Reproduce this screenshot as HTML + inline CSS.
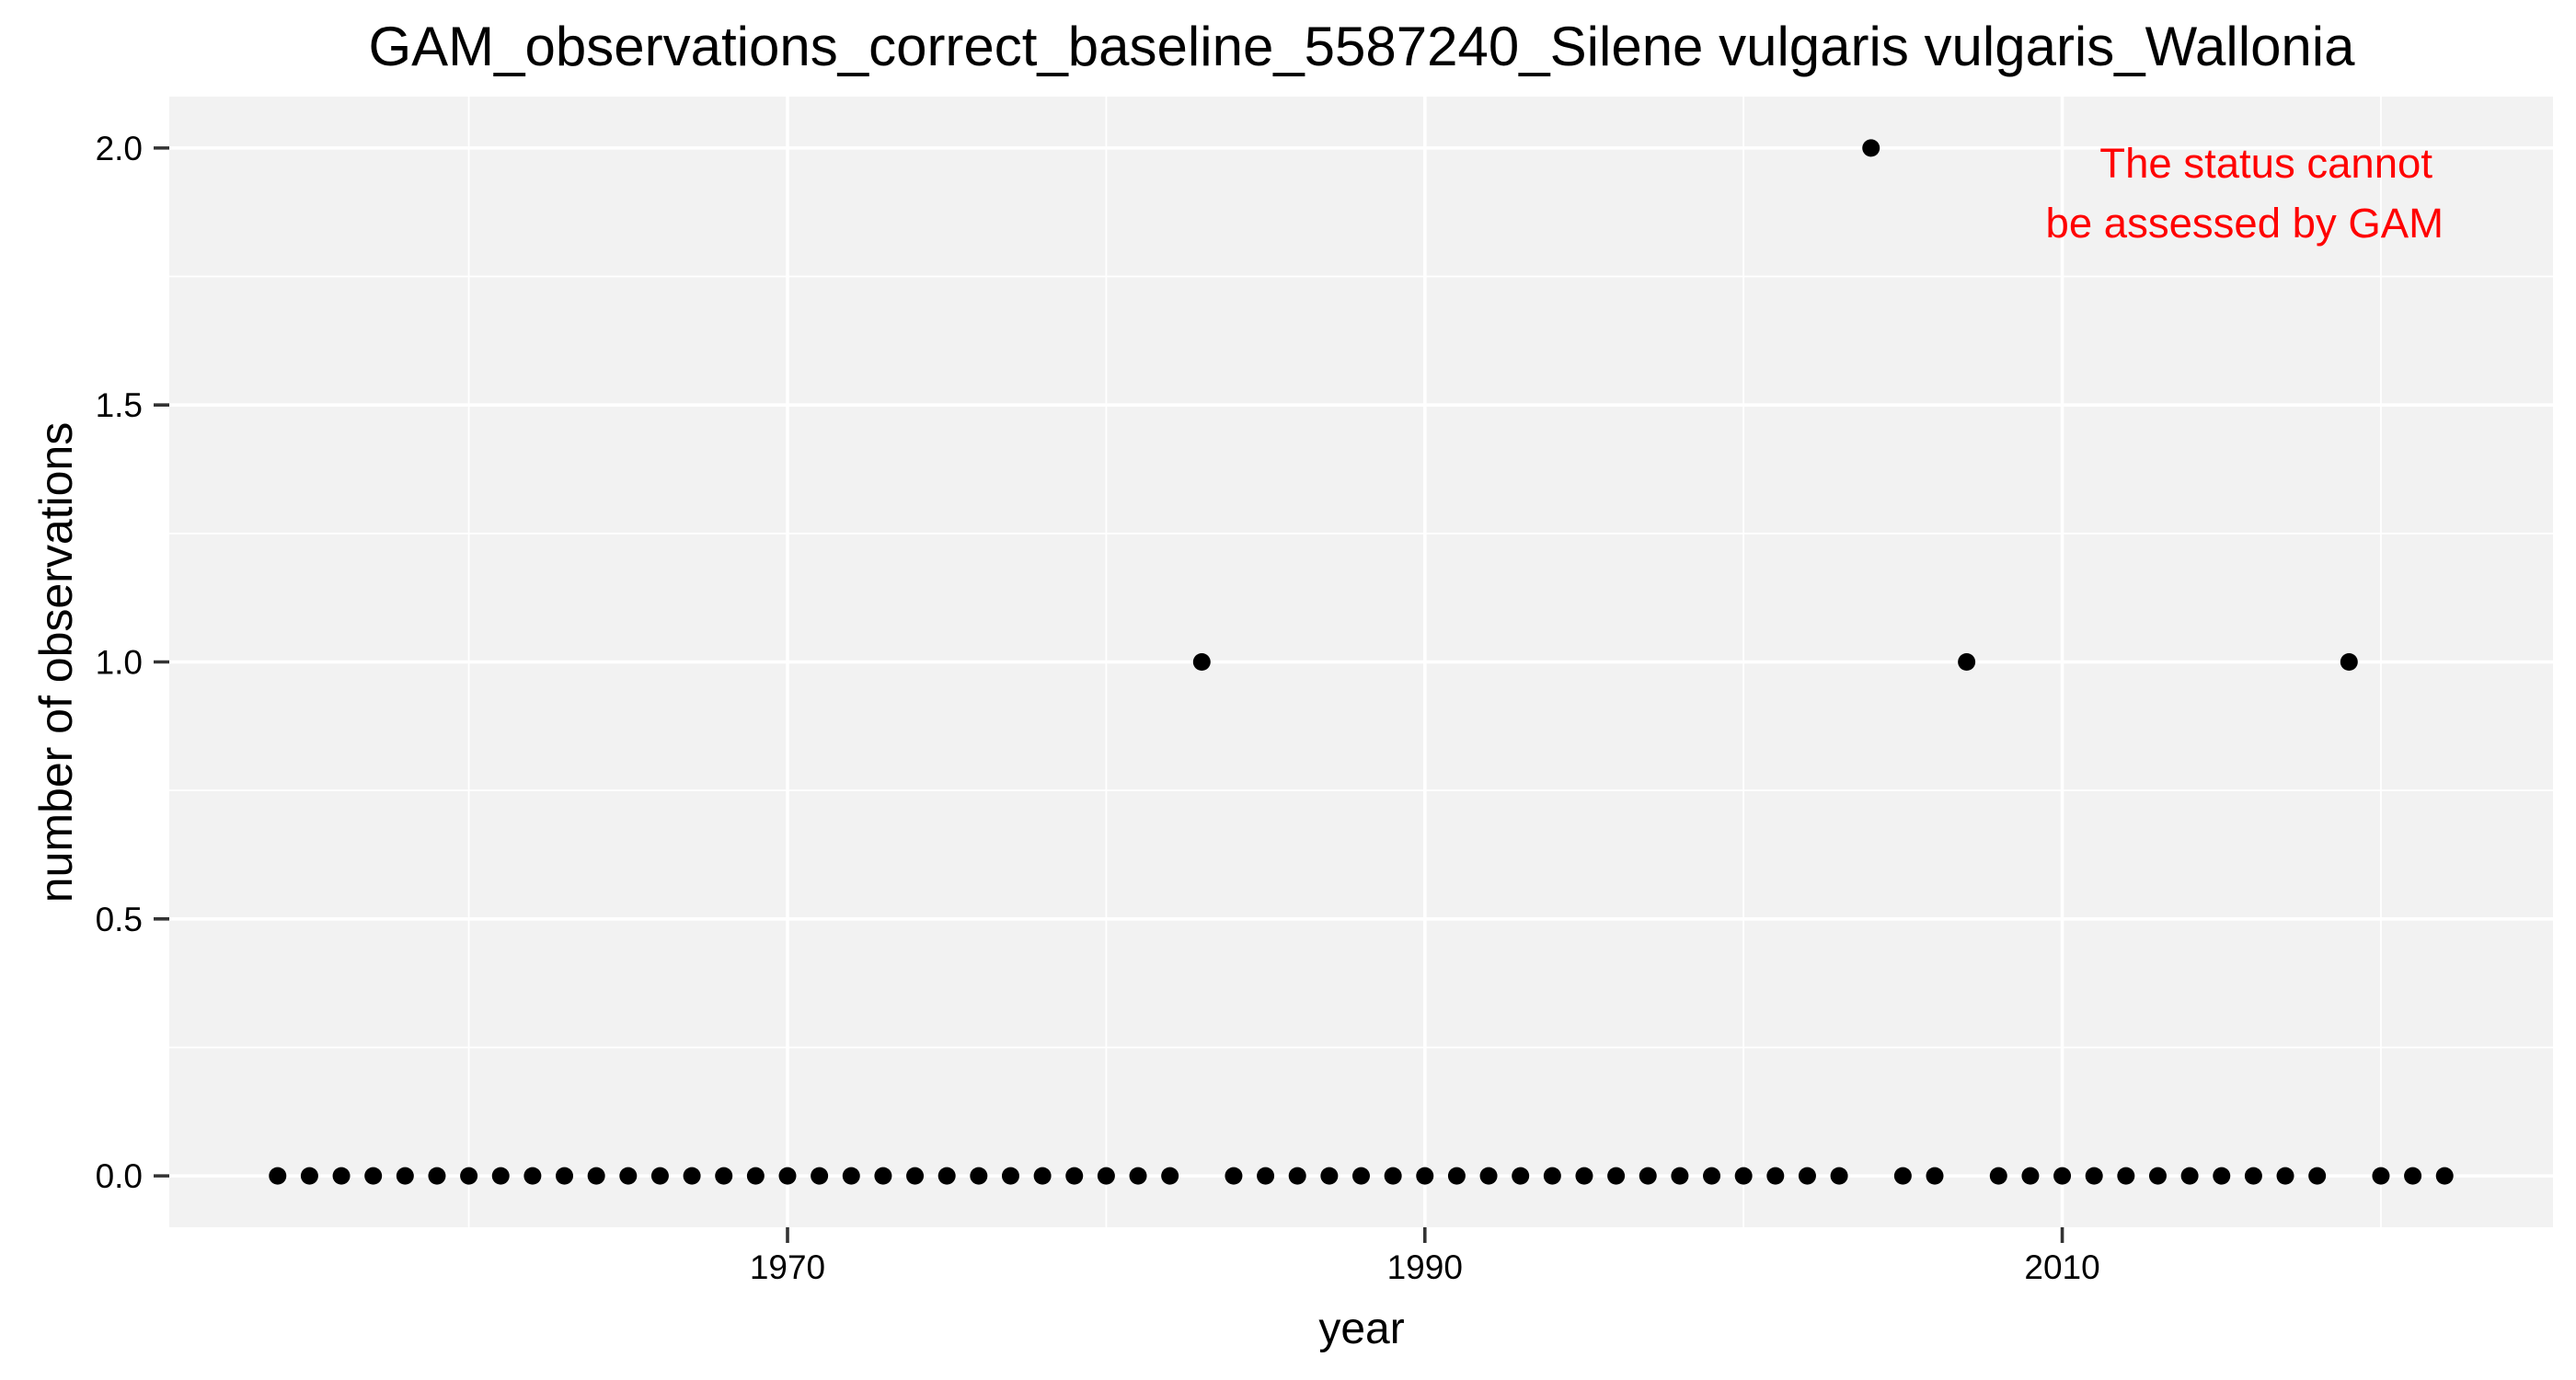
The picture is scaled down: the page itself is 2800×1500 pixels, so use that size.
<!DOCTYPE html>
<html><head><meta charset="utf-8"><style>body{margin:0;background:#fff}svg{display:block;font-family:"Liberation Sans",Arial,sans-serif}</style></head>
<body>
<svg id="chart" width="2800" height="1500" xmlns="http://www.w3.org/2000/svg">
<rect width="2800" height="1500" fill="#fff"/>
<rect x="184" y="105" width="2591" height="1229" fill="#f2f2f2"/>
<g id="grid"></g>
<g id="axes"></g>
<g id="points"></g>
<text x="1480" y="71" font-size="60" text-anchor="middle">GAM_observations_correct_baseline_5587240_Silene vulgaris vulgaris_Wallonia</text>
<text x="2644" y="193" font-size="45.5" fill="#ff0000" text-anchor="end">The status cannot</text>
<text x="2656" y="258" font-size="45.5" fill="#ff0000" text-anchor="end">be assessed by GAM</text>
<text x="1480" y="1460" font-size="48" text-anchor="middle">year</text>
<text transform="translate(78,720) rotate(-90)" font-size="50" text-anchor="middle">number of observations</text>
</svg>
<script>
const years = [1954,1955,1956,1957,1958,1959,1960,1961,1962,1963,1964,1965,1966,1967,1968,1969,1970,1971,1972,1973,1974,1975,1976,1977,1978,1979,1980,1981,1982,1983,1984,1985,1986,1987,1988,1989,1990,1991,1992,1993,1994,1995,1996,1997,1998,1999,2000,2001,2002,2003,2004,2005,2006,2007,2008,2009,2010,2011,2012,2013,2014,2015,2016,2017,2018,2019,2020,2021,2022];
const observations = [0,0,0,0,0,0,0,0,0,0,0,0,0,0,0,0,0,0,0,0,0,0,0,0,0,0,0,0,0,1,0,0,0,0,0,0,0,0,0,0,0,0,0,0,0,0,0,0,0,0,2,0,0,1,0,0,0,0,0,0,0,0,0,0,0,1,0,0,0];
const xTicks = [1970,1990,2010];
const xMinor = [1960,1980,2000,2020];
const yTicks = [0,0.5,1,1.5,2];
const yTickLabels = ["0.0","0.5","1.0","1.5","2.0"];
const yMinor = [0.25,0.75,1.25,1.75];

const NS="http://www.w3.org/2000/svg";
const L=184,R=2775,T=105,B=1334;
const xmin=Math.min(...years),xmax=Math.max(...years);
const ymin=0,ymax=Math.max(...observations);
const xs=(R-L)/((xmax-xmin)*1.1), ys=(B-T)/((ymax-ymin)*1.1);
const X=v=>L+(v-xmin+(xmax-xmin)*0.05)*xs;
const Y=v=>B-(v-ymin+(ymax-ymin)*0.05)*ys;
function mk(tag,attrs,parent){const e=document.createElementNS(NS,tag);for(const k in attrs)e.setAttribute(k,attrs[k]);document.getElementById(parent).appendChild(e);return e;}
xMinor.forEach(v=>{const e=mk('line',{x1:X(v),x2:X(v),y1:T,y2:B,stroke:'#fff','stroke-width':1.8},'grid');

});
yMinor.forEach(v=>{const e=mk('line',{x1:L,x2:R,y1:Y(v),y2:Y(v),stroke:'#fff','stroke-width':1.8},'grid');

});
xTicks.forEach(v=>{const e=mk('line',{x1:X(v),x2:X(v),y1:T,y2:B,stroke:'#fff','stroke-width':3.6},'grid');


const t=mk('line',{x1:X(v),x2:X(v),y1:B,y2:B+17,stroke:'#333','stroke-width':3.6},'axes');


const l=mk('text',{x:X(v),y:1390,'font-size':37,'text-anchor':'middle',fill:'#000'},'axes');l.textContent=v;

});
yTicks.forEach((v,i)=>{const e=mk('line',{x1:L,x2:R,y1:Y(v),y2:Y(v),stroke:'#fff','stroke-width':3.6},'grid');


const t=mk('line',{x1:L-17,x2:L,y1:Y(v),y2:Y(v),stroke:'#333','stroke-width':3.6},'axes');


const l=mk('text',{x:155,y:Y(v)+13,'font-size':37,'text-anchor':'end',fill:'#000'},'axes');l.textContent=yTickLabels[i];

});
years.forEach((yr,i)=>{const c=mk('circle',{cx:X(yr),cy:Y(observations[i]),r:9.5,fill:'#000'},'points');

});
</script>
</body></html>
